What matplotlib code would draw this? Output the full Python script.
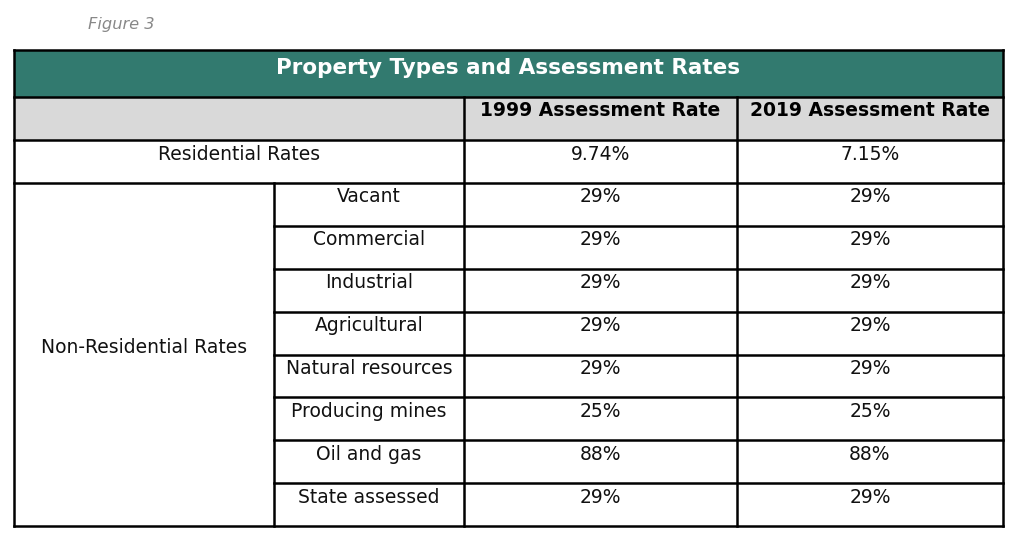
import matplotlib.pyplot as plt
from matplotlib.patches import Rectangle

plt.rcParams['font.family'] = ['DejaVu Sans']

title = "Property Types and Assessment Rates"
col_headers = ["1999 Assessment Rate", "2019 Assessment Rate"]
residential_label = "Residential Rates"
residential_rates = ["9.74%", "7.15%"]
nonres_label = "Non-Residential Rates"
nonres_types = ["Vacant", "Commercial", "Industrial", "Agricultural",
                "Natural resources", "Producing mines", "Oil and gas", "State assessed"]
rates_1999 = ["29%", "29%", "29%", "29%", "29%", "25%", "88%", "29%"]
rates_2019 = ["29%", "29%", "29%", "29%", "29%", "25%", "88%", "29%"]

W, H = 1024, 550
fig = plt.figure(figsize=(W / 100, H / 100), dpi=100)
ax = fig.add_axes([0, 0, 1, 1])
ax.set_xlim(0, W)
ax.set_ylim(H, 0)
ax.axis('off')

# column edges (px)
x0, x1, x2, x3, x4 = 14, 274, 464, 737, 1003
y_top, y_title, y_head = 50, 97, 140
row_h = 42.9
lw = 1.8
teal = '#327a6f'
grey = '#d9d9d9'
fs = 13.5

ax.text(88, 24, "Figure 3", fontsize=11.7, style='italic', color='#888888', va='center')

# title band
ax.add_patch(Rectangle((x0, y_top), x4 - x0, y_title - y_top, facecolor=teal, edgecolor='none'))
ax.text((x0 + x4) / 2, y_top + 18, title, fontsize=15.5, fontweight='bold', color='white',
        ha='center', va='center')

# header row
ax.add_patch(Rectangle((x0, y_title), x4 - x0, y_head - y_title, facecolor=grey, edgecolor='none'))
for i, h in enumerate(col_headers):
    cx = [(x2 + x3) / 2, (x3 + x4) / 2][i]
    ax.text(cx, y_head - 30, h, fontsize=fs, fontweight='bold', ha='center', va='center')


def cell_text(cx, ytop, s):
    ax.text(cx, ytop + 14, s, fontsize=fs, ha='center', va='center', color='#111111')


# residential row
y_res = y_head
cell_text((x0 + x2) / 2, y_res, residential_label)
cell_text((x2 + x3) / 2, y_res, residential_rates[0])
cell_text((x3 + x4) / 2, y_res, residential_rates[1])

# non-residential rows
y_nr = y_head + row_h
n = len(nonres_types)
for i in range(n):
    yt = y_nr + i * row_h
    cell_text((x1 + x2) / 2, yt, nonres_types[i])
    cell_text((x2 + x3) / 2, yt, rates_1999[i])
    cell_text((x3 + x4) / 2, yt, rates_2019[i])
y_bot = y_nr + n * row_h
ax.text((x0 + x1) / 2, (y_nr + y_bot) / 2 - 7, nonres_label, fontsize=fs, ha='center', va='center',
        color='#111111')

# grid lines
kw = dict(color='black', lw=lw, solid_capstyle='projecting')
ax.plot([x0, x4], [y_top, y_top], **kw)
ax.plot([x0, x4], [y_title, y_title], **kw)
ax.plot([x0, x4], [y_head, y_head], **kw)
ax.plot([x0, x4], [y_nr, y_nr], **kw)
for i in range(1, n):
    yy = y_nr + i * row_h
    ax.plot([x1, x4], [yy, yy], **kw)
ax.plot([x0, x4], [y_bot, y_bot], **kw)
ax.plot([x0, x0], [y_top, y_bot], **kw)
ax.plot([x4, x4], [y_top, y_bot], **kw)
ax.plot([x1, x1], [y_nr, y_bot], **kw)
ax.plot([x2, x2], [y_title, y_bot], **kw)
ax.plot([x3, x3], [y_title, y_bot], **kw)

fig.savefig("out.png", dpi=100)
